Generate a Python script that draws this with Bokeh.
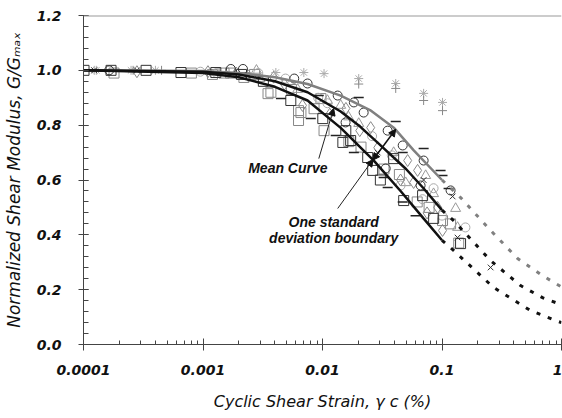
from bokeh.plotting import figure
from bokeh.models import (FixedTicker, PrintfTickFormatter, Span, Label, Arrow, NormalHead)
from bokeh.embed import file_html
from bokeh.resources import INLINE

# ---------------- data ----------------
x_ticks = [0.0001, 0.001, 0.01, 0.1, 1]
x_tick_labels = ["0.0001", "0.001", "0.01", "0.1", "1"]
y_ticks = [0.0, 0.2, 0.4, 0.6, 0.8, 1.0, 1.2]
y_tick_labels = ["0.0", "0.2", "0.4", "0.6", "0.8", "1.0", "1.2"]

# curves (solid part up to 0.1 %, dashed extrapolation beyond)
upper_x = [0.0001, 0.001, 0.002, 0.004, 0.0075, 0.0142, 0.025, 0.0395, 0.058, 0.1]
upper_y = [1.0, 0.998, 0.99, 0.975, 0.95, 0.908, 0.855, 0.791, 0.708, 0.60]
upper_ext_x = [0.1, 0.143, 0.25, 0.429, 0.7, 1.0]
upper_ext_y = [0.60, 0.536, 0.42, 0.314, 0.25, 0.21]

mean_x = [0.0001, 0.001, 0.002, 0.004, 0.0075, 0.0142, 0.02, 0.03, 0.05, 0.07, 0.1]
mean_y = [1.0, 0.995, 0.985, 0.96, 0.92, 0.85, 0.80, 0.73, 0.64, 0.57, 0.49]
mean_ext_x = [0.1, 0.125, 0.255, 0.454, 0.7, 1.0]
mean_ext_y = [0.49, 0.452, 0.306, 0.215, 0.17, 0.145]

lower_x = [0.0001, 0.001, 0.002, 0.004, 0.0075, 0.0142, 0.027, 0.045, 0.07, 0.1]
lower_y = [1.0, 0.99, 0.975, 0.94, 0.89, 0.79, 0.67, 0.56, 0.46, 0.38]
lower_ext_x = [0.1, 0.125, 0.27, 0.55, 0.889, 1.0]
lower_ext_y = [0.38, 0.343, 0.208, 0.124, 0.0875, 0.08]

# measured data points
sq_black_x = [0.000101, 0.00017, 0.000334, 0.000654, 0.00128, 0.00543, 0.01006, 0.01567,
              0.0148, 0.0239, 0.0263, 0.0394, 0.0478, 0.0851, 0.143, 0.0688, 0.0172,
              0.0021, 0.0032, 0.0305]
sq_black_y = [1.0, 1.0, 1.0, 0.992, 0.992, 0.89, 0.824, 0.78,
              0.737, 0.682, 0.635, 0.678, 0.525, 0.46, 0.368, 0.543, 0.744,
              0.985, 0.96, 0.60]
sq_grey_x = [0.00018, 0.0008, 0.0012, 0.0015, 0.0017, 0.0022, 0.0027, 0.0035, 0.0037,
             0.0063, 0.0063, 0.0066, 0.0097, 0.0103, 0.0166, 0.0327, 0.044, 0.101, 0.118, 0.138,
             0.0055, 0.0085, 0.021, 0.062, 0.078]
sq_grey_y = [0.99, 0.99, 0.985, 0.99, 0.99, 0.974, 0.985, 0.915, 0.92,
             0.853, 0.817, 0.846, 0.897, 0.78, 0.74, 0.64, 0.62, 0.452, 0.44, 0.37,
             0.93, 0.86, 0.72, 0.52, 0.50]
circ_black_x = [0.000164, 0.00171, 0.00216, 0.0058, 0.0075, 0.0134, 0.0183, 0.0221,
                0.0351, 0.0469, 0.0702, 0.0338, 0.118, 0.0662, 0.0156]
circ_black_y = [1.0, 1.005, 1.005, 0.97, 0.952, 0.908, 0.883, 0.846,
                0.78, 0.726, 0.671, 0.642, 0.562, 0.58, 0.81]
circ_grey_x = [0.0029, 0.0049, 0.011, 0.045, 0.1, 0.157, 0.0688, 0.00095, 0.0013,
               0.0092, 0.026, 0.038, 0.085]
circ_grey_y = [0.99, 0.97, 0.88, 0.58, 0.47, 0.427, 0.53, 0.995, 0.99,
               0.90, 0.76, 0.69, 0.57]
diam_grey_x = [0.00028, 0.0011, 0.0019, 0.0039, 0.0068, 0.0157, 0.0253, 0.029, 0.0516,
               0.0625, 0.0579, 0.0919, 0.101, 0.045, 0.0024, 0.0048, 0.0115, 0.0205, 0.075]
diam_grey_y = [0.995, 0.995, 0.99, 0.975, 0.872, 0.861, 0.791, 0.718, 0.671,
               0.635, 0.591, 0.5, 0.416, 0.6, 0.98, 0.95, 0.84, 0.78, 0.48]
tri_grey_x = [0.0028, 0.011, 0.0142, 0.0201, 0.0394, 0.0497, 0.073, 0.13, 0.135, 0.085, 0.003,
              0.0062, 0.0165]
tri_grey_y = [1.0, 0.89, 0.872, 0.806, 0.70, 0.59, 0.616, 0.496, 0.427, 0.55, 0.97,
              0.93, 0.83]
star_light_x = [0.000123, 0.000128, 0.00025, 0.0004, 0.00407, 0.00698, 0.0103, 0.0201,
                0.041, 0.0702, 0.101]
star_light_y = [1.0, 1.0, 1.0, 1.0, 0.992, 0.992, 0.988, 0.97, 0.952, 0.916, 0.883]
plus_grey_x = [0.00026, 0.00045, 0.0201, 0.041, 0.0702, 0.101]
plus_grey_y = [1.0, 1.0, 0.95, 0.934, 0.89, 0.853]
dash_black_x = [0.00449, 0.00798, 0.00931, 0.0129, 0.0183, 0.0201, 0.041, 0.0325, 0.0351,
                0.0702, 0.0973, 0.0469, 0.101, 0.1135, 0.0601, 0.0469]
dash_black_y = [0.897, 0.824, 0.908, 0.762, 0.70, 0.901, 0.813, 0.609, 0.573,
                0.715, 0.635, 0.70, 0.616, 0.569, 0.47, 0.52]
x_black_x = [0.000123, 0.00028, 0.029, 0.0702, 0.1227, 0.135, 0.255]
x_black_y = [1.0, 1.0, 0.70, 0.60, 0.54, 0.39, 0.281]

# ---------------- figure ----------------
p = figure(width=562, height=418, x_axis_type="log", x_range=(0.0001, 1), y_range=(0, 1.2),
           output_backend="svg", toolbar_location=None,
           min_border_left=82, min_border_right=1, min_border_top=15, min_border_bottom=74)
p.outline_line_color = None
p.xgrid.grid_line_color = None
p.ygrid.grid_line_color = None
p.background_fill_color = "white"
p.border_fill_color = "white"

p.add_layout(Span(location=1.2, dimension="width", line_color="#999999", line_width=2))

# scatter points
ms = 9
p.scatter(sq_grey_x, sq_grey_y, marker="square", size=10, fill_color=None, line_color="#888888", line_width=1)
p.scatter(diam_grey_x, diam_grey_y, marker="diamond", size=12, fill_color=None, line_color="#888888", line_width=1)
p.scatter(tri_grey_x, tri_grey_y, marker="triangle", size=10, fill_color=None, line_color="#999999", line_width=1)
p.scatter(circ_grey_x, circ_grey_y, marker="circle", size=ms, fill_color=None, line_color="#aaaaaa", line_width=1)
p.scatter(star_light_x, star_light_y, marker="asterisk", size=ms, line_color="#aaaaaa", line_width=1)
p.scatter(plus_grey_x, plus_grey_y, marker="cross", size=ms, line_color="#888888", line_width=1)
p.scatter(sq_black_x, sq_black_y, marker="square", size=10, fill_color=None, line_color="#333333", line_width=1)
p.scatter(circ_black_x, circ_black_y, marker="circle", size=ms, fill_color=None, line_color="#333333", line_width=1)
p.scatter(dash_black_x, dash_black_y, marker="dash", size=10, line_color="#222222", line_width=1.5)
p.scatter(x_black_x, x_black_y, marker="x", size=8, line_color="#333333", line_width=1)

# curves
p.line(upper_x, upper_y, line_color="#808080", line_width=2.5)
p.line(mean_x, mean_y, line_color="#111111", line_width=2.5)
p.line(lower_x, lower_y, line_color="#111111", line_width=2.5)
p.line(upper_ext_x, upper_ext_y, line_color="#808080", line_width=3, line_dash="4 8")
p.line(mean_ext_x, mean_ext_y, line_color="#111111", line_width=3, line_dash="4 8")
p.line(lower_ext_x, lower_ext_y, line_color="#111111", line_width=3, line_dash="4 8")

# annotations
ann_font = "Liberation Sans"
p.add_layout(Label(x=0.00513, y=0.645, text="Mean Curve", text_align="center", text_baseline="middle",
                   text_font=ann_font, text_font_style="bold italic", text_font_size="14px", text_color="#111111"))
p.add_layout(Label(x=0.0124, y=0.445, text="One standard", text_align="center", text_baseline="middle",
                   text_font=ann_font, text_font_style="bold italic", text_font_size="14px", text_color="#111111"))
p.add_layout(Label(x=0.0124, y=0.387, text="deviation boundary", text_align="center", text_baseline="middle",
                   text_font=ann_font, text_font_style="bold italic", text_font_size="14px", text_color="#111111"))

p.add_layout(Arrow(x_start=0.00931, y_start=0.678, x_end=0.0124, y_end=0.861, line_color="#222222", line_width=1,
                   end=NormalHead(size=7, fill_color="#111111", line_color="#111111")))
p.add_layout(Arrow(x_start=0.0134, y_start=0.496, x_end=0.0265, y_end=0.675, line_color="#222222", line_width=1,
                   end=NormalHead(size=7, fill_color="#111111", line_color="#111111")))
p.add_layout(Arrow(x_start=0.0263, y_start=0.672, x_end=0.041, y_end=0.785, line_color="#111111", line_width=1.5,
                   start=NormalHead(size=7, fill_color="#111111", line_color="#111111"),
                   end=NormalHead(size=7, fill_color="#111111", line_color="#111111")))

# axes
p.xaxis.ticker = FixedTicker(ticks=x_ticks,
                             minor_ticks=[m * 10.0 ** e for e in range(-4, 0) for m in range(2, 10)])
p.xaxis.major_label_overrides = {t: s for t, s in zip(x_ticks, x_tick_labels)}
p.yaxis.ticker = FixedTicker(ticks=y_ticks,
                             minor_ticks=[round(0.04 * i, 2) for i in range(0, 31)])
p.yaxis.major_label_overrides = {t: s for t, s in zip(y_ticks, y_tick_labels)}
p.yaxis.formatter = PrintfTickFormatter(format="%.1f")

for ax in (p.xaxis[0], p.yaxis[0]):
    ax.axis_line_color = "#444444"
    ax.major_tick_line_color = "#444444"
    ax.minor_tick_line_color = "#444444"
    ax.major_label_text_font = "DejaVu Sans"
    ax.major_label_text_font_style = "bold italic"
    ax.major_label_text_font_size = "14px"
    ax.major_label_text_color = "#111111"
    ax.axis_label_text_font = "DejaVu Sans"
    ax.axis_label_text_font_style = "italic"
    ax.axis_label_text_color = "#111111"

p.xaxis.major_tick_in = 6
p.xaxis.major_tick_out = 6
p.xaxis.minor_tick_in = 4
p.xaxis.minor_tick_out = 0
p.xaxis.major_label_standoff = 14
p.xaxis.axis_label = "Cyclic Shear Strain, γ c (%)"
p.xaxis.axis_label_text_font_size = "16px"
p.xaxis.axis_label_standoff = 14

p.yaxis.major_tick_in = 5
p.yaxis.major_tick_out = 5
p.yaxis.minor_tick_in = 5
p.yaxis.minor_tick_out = 0
p.yaxis.major_label_standoff = 17
p.yaxis.axis_label = "Normalized Shear Modulus, G/Gₘₐₓ"
p.yaxis.axis_label_text_font_size = "17px"
p.yaxis.axis_label_standoff = 10

open("out.html", "w").write(file_html(p, INLINE))
